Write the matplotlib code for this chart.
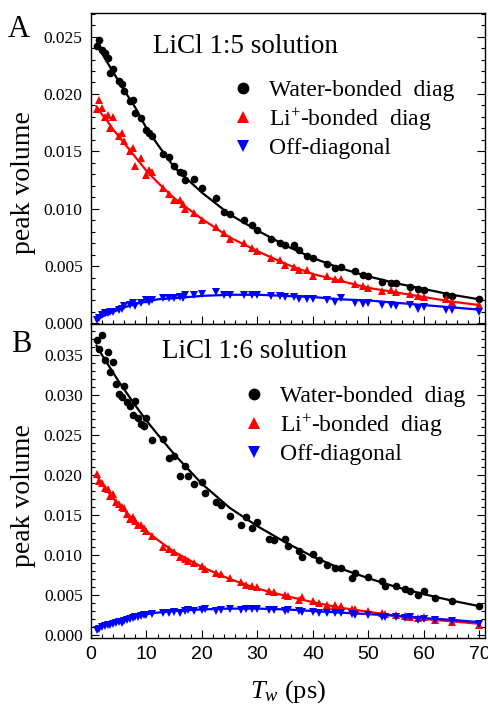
import matplotlib
matplotlib.use("Agg")
import matplotlib.pyplot as plt
from matplotlib.ticker import MultipleLocator, AutoMinorLocator, FormatStrFormatter

plt.rcParams['font.family'] = ['Liberation Serif', 'DejaVu Serif']
plt.rcParams['mathtext.fontset'] = 'custom'
plt.rcParams['mathtext.rm'] = 'Liberation Serif'
plt.rcParams['mathtext.it'] = 'Liberation Serif:italic'

# ---- panel A: LiCl 1:5 ----
t_a = [1.0, 1.5, 2.0, 2.5, 3.0, 3.5, 4.0, 5.0, 5.5, 6.0, 7.0, 7.5, 8.0,
       9.0, 10, 10.5, 11, 13, 14, 15, 16, 16.5, 17, 18.5, 20, 22.5, 24, 25,
       27.5, 29, 30, 32.5, 34, 35, 36.5, 37.5, 39, 40, 42.5, 44, 45, 47.5,
       49, 50, 52.5, 54, 55, 57.5, 59, 60, 64, 65, 70]
water_a = [0.0242, 0.0247, 0.0238, 0.0236, 0.0231, 0.0218, 0.0222,
           0.0211, 0.0209, 0.0203, 0.0194, 0.0195, 0.0183,
           0.0179, 0.0169, 0.0166, 0.0163,
           0.0148, 0.0145, 0.0137, 0.0132, 0.0131, 0.0125,
           0.0126, 0.0118, 0.0109, 0.0097, 0.0095,
           0.0090, 0.0086, 0.0081, 0.0074, 0.0070, 0.0068,
           0.0068, 0.0064, 0.0059, 0.0057, 0.0052, 0.0048, 0.0049,
           0.0046, 0.0042, 0.0041, 0.0036, 0.0035, 0.0035,
           0.0032, 0.0030, 0.0029, 0.0025, 0.0024, 0.0021]
li_a = [0.0187, 0.0195, 0.0188, 0.0180, 0.0182, 0.0170, 0.0180,
        0.0163, 0.0166, 0.0159, 0.0150, 0.0153, 0.0137,
        0.0144, 0.0129, 0.0134, 0.0132,
        0.0118, 0.0113, 0.0108, 0.0108, 0.0104, 0.0100,
        0.0096, 0.0090, 0.0084, 0.0079, 0.0074,
        0.0070, 0.0066, 0.0063, 0.0057, 0.0055, 0.0051,
        0.0049, 0.0047, 0.0047, 0.0041, 0.0041, 0.0039, 0.0039,
        0.0034, 0.0033, 0.0031, 0.0028, 0.0029, 0.0027,
        0.0026, 0.0024, 0.0023, 0.0021, 0.0019, 0.0016]
off_a = [0.0003, 0.0005, 0.0007, 0.0009, 0.0009, 0.0010, 0.0010,
         0.0012, 0.0013, 0.0015, 0.0016, 0.0018, 0.0015,
         0.0018, 0.0020, 0.0019, 0.0020,
         0.0022, 0.0022, 0.0022, 0.0023, 0.0022, 0.0025,
         0.0025, 0.0026, 0.0027, 0.0025, 0.0025,
         0.0025, 0.0025, 0.0025, 0.0024, 0.0024, 0.0023,
         0.0023, 0.0021, 0.0021, 0.0021, 0.0020, 0.0019, 0.0022,
         0.0018, 0.0017, 0.0018, 0.0016, 0.0016, 0.0015,
         0.0016, 0.0013, 0.0014, 0.0012, 0.0012, 0.0010]

# fitted curves
t_fit = [1, 2, 3, 4, 5, 6, 8, 10, 12, 15, 20, 25, 30, 35, 40, 45, 50, 55, 60, 65, 70]
water_fit_a = [0.0243, 0.0235, 0.0227, 0.0219, 0.0211, 0.0203, 0.0188, 0.0170, 0.0156, 0.0136,
               0.0114, 0.0095, 0.0081, 0.0068, 0.0057, 0.0048, 0.0041, 0.0035, 0.0030, 0.0025, 0.0021]
li_fit_a = [0.0189, 0.0182, 0.0176, 0.0169, 0.0163, 0.0157, 0.0145, 0.0133, 0.0123, 0.0109,
            0.0091, 0.0075, 0.0063, 0.0052, 0.0043, 0.0037, 0.0031, 0.0027, 0.0023, 0.0019, 0.0016]
off_fit_a = [0.0003, 0.0006, 0.0008, 0.0010, 0.0012, 0.0014, 0.0017, 0.0019, 0.0021, 0.0022,
             0.0024, 0.0025, 0.0025, 0.0024, 0.0023, 0.0021, 0.0020, 0.0018, 0.0016, 0.0014, 0.0012]

# ---- panel B: LiCl 1:6 ----
t_b = [1.0, 1.5, 2.0, 2.5, 3.0, 3.5, 4.0, 4.5, 5.0, 5.5, 6.0, 6.5, 7.0, 7.5,
       8.0, 8.5, 9.0, 9.5, 10, 11, 13, 14, 15, 16, 17, 17.5, 18.5, 20, 20.5,
       22.5, 23.5, 25, 27, 28, 29, 30, 32, 33, 35, 35.5, 37.5, 38, 40, 41,
       42.5, 44, 45, 47, 47.5, 50, 52.5, 53, 55, 56.5, 57.5, 59, 60, 62, 65, 70]
water_b = [0.0369, 0.0358, 0.0375, 0.0344, 0.0354, 0.0329, 0.0342, 0.0314, 0.0302,
           0.0298, 0.0312, 0.0291, 0.0287, 0.0275, 0.0293, 0.0271, 0.0264, 0.0262,
           0.0272, 0.0244, 0.0245, 0.0222, 0.0224, 0.0199, 0.0211, 0.0199, 0.0189,
           0.0191, 0.0178, 0.0166, 0.0162, 0.0149, 0.0138, 0.0147, 0.0134, 0.0141,
           0.0120, 0.0119, 0.0120, 0.0111, 0.0105, 0.0097, 0.0101, 0.0094, 0.0088,
           0.0084, 0.0084, 0.0071, 0.0078, 0.0073, 0.0068, 0.0061, 0.0061, 0.0057,
           0.0055, 0.0050, 0.0055, 0.0046, 0.0042, 0.0036]
li_b = [0.0201, 0.0193, 0.0190, 0.0184, 0.0182, 0.0174, 0.0176, 0.0166, 0.0164,
        0.0160, 0.0159, 0.0151, 0.0145, 0.0147, 0.0142, 0.0137, 0.0137, 0.0134,
        0.0130, 0.0124, 0.0110, 0.0108, 0.0104, 0.0098, 0.0095, 0.0093, 0.0090,
        0.0086, 0.0083, 0.0077, 0.0076, 0.0071, 0.0066, 0.0063, 0.0061, 0.0060,
        0.0055, 0.0054, 0.0050, 0.0049, 0.0044, 0.0047, 0.0043, 0.0040, 0.0038,
        0.0037, 0.0036, 0.0032, 0.0033, 0.0030, 0.0027, 0.0026, 0.0025, 0.0024,
        0.0022, 0.0021, 0.0022, 0.0019, 0.0016, 0.0012]
off_b = [0.0006, 0.0008, 0.0010, 0.0011, 0.0012, 0.0013, 0.0014, 0.0015, 0.0016,
         0.0015, 0.0018, 0.0019, 0.0020, 0.0021, 0.0022, 0.0022, 0.0024, 0.0025,
         0.0025, 0.0026, 0.0027, 0.0028, 0.0029, 0.0028, 0.0030, 0.0031, 0.0030,
         0.0031, 0.0032, 0.0030, 0.0031, 0.0032, 0.0031, 0.0033, 0.0032, 0.0032,
         0.0031, 0.0031, 0.0030, 0.0031, 0.0030, 0.0029, 0.0029, 0.0028, 0.0028,
         0.0027, 0.0028, 0.0026, 0.0025, 0.0025, 0.0023, 0.0022, 0.0022, 0.0021,
         0.0022, 0.0019, 0.0020, 0.0019, 0.0017, 0.0014]

water_fit_b = [0.0362, 0.0350, 0.0339, 0.0328, 0.0317, 0.0307, 0.0287, 0.0268, 0.0251, 0.0226,
               0.0189, 0.0159, 0.0136, 0.0116, 0.0098, 0.0083, 0.0071, 0.0060, 0.0051, 0.0043, 0.0036]
li_fit_b = [0.0199, 0.0189, 0.0180, 0.0171, 0.0163, 0.0156, 0.0142, 0.0130, 0.0119, 0.0104,
            0.0085, 0.0070, 0.0058, 0.0049, 0.0041, 0.0034, 0.0029, 0.0024, 0.0020, 0.0017, 0.0014]
off_fit_b = [0.0008, 0.0011, 0.0013, 0.0015, 0.0017, 0.0019, 0.0023, 0.0026, 0.0028, 0.0030,
             0.0032, 0.0033, 0.0033, 0.0032, 0.0030, 0.0028, 0.0026, 0.0024, 0.0021, 0.0019, 0.0016]

labels = ['Water-bonded  diag', 'Li$^{+}$-bonded  diag', 'Off-diagonal']

fig = plt.figure(figsize=(4.89, 7.04), dpi=100)
L, W = 91 / 489, 394 / 489
ax1 = fig.add_axes([L, 1 - 324 / 704, W, 311.5 / 704])
ax2 = fig.add_axes([L, 1 - 637.7 / 704, W, 313.7 / 704])


def draw(ax, t, w, li, off, wf, lf, of):
    ax.plot(t_fit, wf, color='black', lw=1.6, zorder=2)
    ax.plot(t_fit, lf, color='red', lw=1.6, zorder=2)
    ax.plot(t_fit, of, color='blue', lw=1.6, zorder=2)
    h1, = ax.plot(t, w, 'o', color='black', ms=5.5, mew=0, zorder=3)
    h2, = ax.plot(t, li, '^', color='red', ms=6, mew=0, zorder=3)
    h3, = ax.plot(t, off, 'v', color='blue', ms=6, mew=0, zorder=3)
    ax.set_xlim(0, 71)
    ax.xaxis.set_major_locator(MultipleLocator(10))
    ax.xaxis.set_minor_locator(AutoMinorLocator(5))
    ax.yaxis.set_major_locator(MultipleLocator(0.005))
    ax.yaxis.set_minor_locator(AutoMinorLocator(5))
    ax.yaxis.set_major_formatter(FormatStrFormatter('%.3f'))
    ax.tick_params(which='both', direction='in', top=False, right=True, width=0.8)
    ax.tick_params(which='major', length=6)
    ax.tick_params(which='minor', length=3)
    ax.tick_params(axis='y', labelsize=12.5, pad=6)
    for s in ax.spines.values():
        s.set_linewidth(1.0)
    ax.set_ylabel('peak volume', fontsize=20)
    ax.yaxis.set_label_coords(-0.14, 0.454)
    return [h1, h2, h3]


hA = draw(ax1, t_a, water_a, li_a, off_a, water_fit_a, li_fit_a, off_fit_a)
ax1.set_ylim(-0.00005, 0.0271)
ax1.tick_params(axis='x', labelbottom=False)
ax1.text(0.157, 0.87, 'LiCl 1:5 solution', transform=ax1.transAxes, fontsize=19.5, va='baseline')
ax1.legend(hA, labels, loc='upper left', bbox_to_anchor=(0.357, 0.785), frameon=False,
           fontsize=17, markerscale=1.55, handlelength=1.0, handletextpad=0.6,
           labelspacing=0.22, borderpad=0, borderaxespad=0, numpoints=1)

hB = draw(ax2, t_b, water_b, li_b, off_b, water_fit_b, li_fit_b, off_fit_b)
ax2.set_ylim(-0.00034, 0.0389)
ax2.text(0.179, 0.893, 'LiCl 1:6 solution', transform=ax2.transAxes, fontsize=19.5, va='baseline')
ax2.legend(hB, labels, loc='upper left', bbox_to_anchor=(0.385, 0.804), frameon=False,
           fontsize=17, markerscale=1.55, handlelength=1.0, handletextpad=0.6,
           labelspacing=0.22, borderpad=0, borderaxespad=0, numpoints=1)
ax2.tick_params(axis='x', labelsize=14, pad=6)
for lab in ax2.get_xticklabels():
    lab.set_family('Liberation Sans')
ax2.set_xlabel(r'$T_w$ (ps)', fontsize=19)
ax2.xaxis.set_label_coords(0.499, -0.128)

fig.text(8 / 489, 1 - 37 / 704, 'A', fontsize=22, va='baseline')
fig.text(11 / 489, 1 - 352 / 704, 'B', fontsize=22, va='baseline')

fig.savefig('out.png', dpi=100)
